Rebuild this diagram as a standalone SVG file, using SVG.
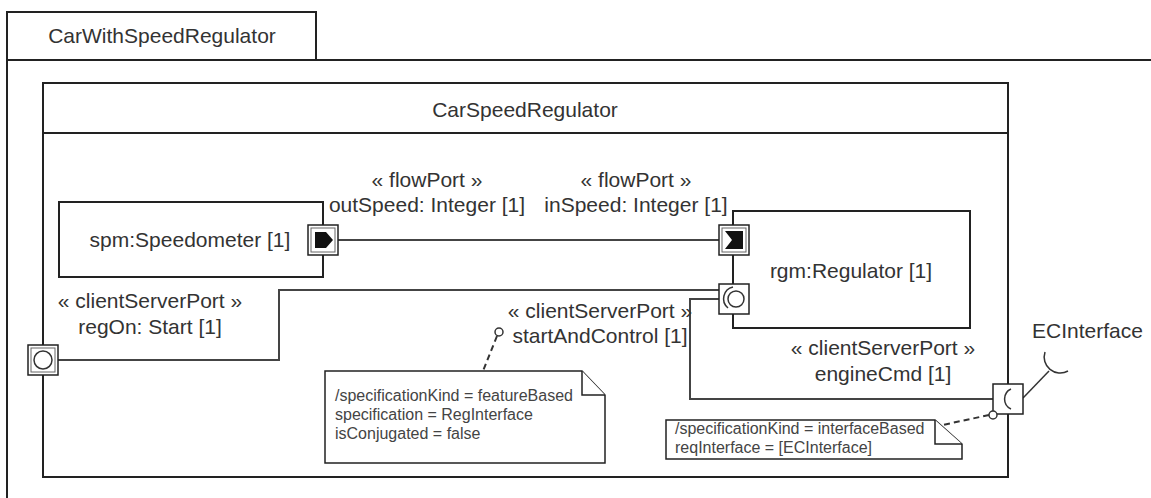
<svg xmlns="http://www.w3.org/2000/svg" width="1151" height="498" viewBox="0 0 1151 498">
<style>
.box{fill:#fff;stroke:#222;stroke-width:2}
.t{font-family:"Liberation Sans",Arial,sans-serif;font-size:21px;fill:#333}
.m{text-anchor:middle}
.n{font-family:"Liberation Sans",Arial,sans-serif;font-size:16px;fill:#444}
.port{fill:#fff;stroke:#222;stroke-width:1.5}
.pin{fill:none;stroke:#666;stroke-width:1}
.sym{fill:none;stroke:#333;stroke-width:1.5}
.conn{fill:none;stroke:#444;stroke-width:2}
.dash{fill:none;stroke:#333;stroke-width:2;stroke-dasharray:6 4}
.note{fill:#fff;stroke:#222;stroke-width:1.5}
</style>
<rect width="1151" height="498" fill="#fff"/>
<g id="frame">
<rect class="box" x="7" y="12" width="309" height="48"/>
<path class="box" d="M7,500 V60 H1152" fill="none"/>
<text class="t m" x="162" y="43">CarWithSpeedRegulator</text>
</g>
<g id="CarSpeedRegulator">
<rect class="box" x="43" y="83" width="965" height="394"/>
<line x1="43" y1="133" x2="1008" y2="133" stroke="#222" stroke-width="2"/>
<text class="t m" x="525" y="117">CarSpeedRegulator</text>
</g>
<g id="spm">
<rect class="box" x="59" y="202" width="264" height="75"/>
<text class="t m" x="190" y="247">spm:Speedometer [1]</text>
</g>
<g id="rgm">
<rect class="box" x="733" y="211" width="237" height="117"/>
<text class="t m" x="851" y="278">rgm:Regulator [1]</text>
</g>
<g id="connectors">
<path class="conn" d="M338,240 H719"/>
<path class="conn" d="M58,360 H279 V290 H719"/>
<path class="conn" d="M719,299 H690 V399 H993"/>
<path class="sym" d="M1023,398 L1049,371"/>
<path class="sym" d="M1045,352 A16 16 0 0 0 1068,371"/>
<path class="dash" d="M497,336 L483,371"/>
<path class="dash" d="M989,415 L938,426"/>
</g>
<g id="port-outSpeed">
<rect class="port" x="308" y="225" width="30" height="30"/>
<rect class="pin" x="311" y="228" width="24" height="24"/>
<polygon points="315,232 326,232 333,240 326,248 315,248" fill="#111"/>
</g>
<g id="port-inSpeed">
<rect class="port" x="719" y="225" width="30" height="30"/>
<rect class="pin" x="722" y="228" width="24" height="24"/>
<polygon points="725,231 743,231 743,249 725,249 732,240" fill="#111"/>
</g>
<g id="port-startAndControl">
<rect class="port" x="719" y="284" width="30" height="30"/>
<circle class="sym" cx="736" cy="299" r="8"/>
<path class="sym" d="M733,287 A12 12 0 0 0 728,308"/>
</g>
<g id="port-regOn">
<rect class="port" x="28" y="345" width="30" height="30"/>
<rect class="pin" x="31" y="348" width="24" height="24"/>
<circle class="sym" cx="43" cy="360" r="9"/>
</g>
<g id="port-engineCmd">
<rect class="port" x="993" y="384" width="30" height="30"/>
<path class="sym" d="M1011,389 A11 11 0 0 0 1011,409"/>
</g>
<g id="note1">
<path class="note" d="M325,371 H582 L605,395 V463 H325 Z"/>
<path class="note" d="M582,371 V395 H605" fill="none"/>
<circle cx="499" cy="332" r="4" fill="#fff" stroke="#333" stroke-width="1.5"/>
<text class="n" x="335" y="401">/specificationKind = featureBased</text>
<text class="n" x="335" y="420">specification = RegInterface</text>
<text class="n" x="335" y="439">isConjugated = false</text>
</g>
<g id="note2">
<path class="note" d="M666,420 H935 L962,444 V459 H666 Z"/>
<path class="note" d="M935,420 V444 H962" fill="none"/>
<circle cx="993" cy="415" r="4" fill="#fff" stroke="#333" stroke-width="1.5"/>
<text class="n" x="675" y="434">/specificationKind = interfaceBased</text>
<text class="n" x="675" y="453">reqInterface = [ECInterface]</text>
</g>
<g id="labels">
<text class="t m" x="427" y="187">« flowPort »</text>
<text class="t m" x="427" y="212">outSpeed: Integer [1]</text>
<text class="t m" x="636" y="187">« flowPort »</text>
<text class="t m" x="636" y="212">inSpeed: Integer [1]</text>
<text class="t m" x="150" y="308">« clientServerPort »</text>
<text class="t m" x="150" y="334">regOn: Start [1]</text>
<text class="t m" x="600" y="318">« clientServerPort »</text>
<text class="t m" x="600" y="343">startAndControl [1]</text>
<text class="t m" x="883" y="355">« clientServerPort »</text>
<text class="t m" x="883" y="381">engineCmd [1]</text>
<text class="t" x="1032" y="338">ECInterface</text>
</g>
</svg>
